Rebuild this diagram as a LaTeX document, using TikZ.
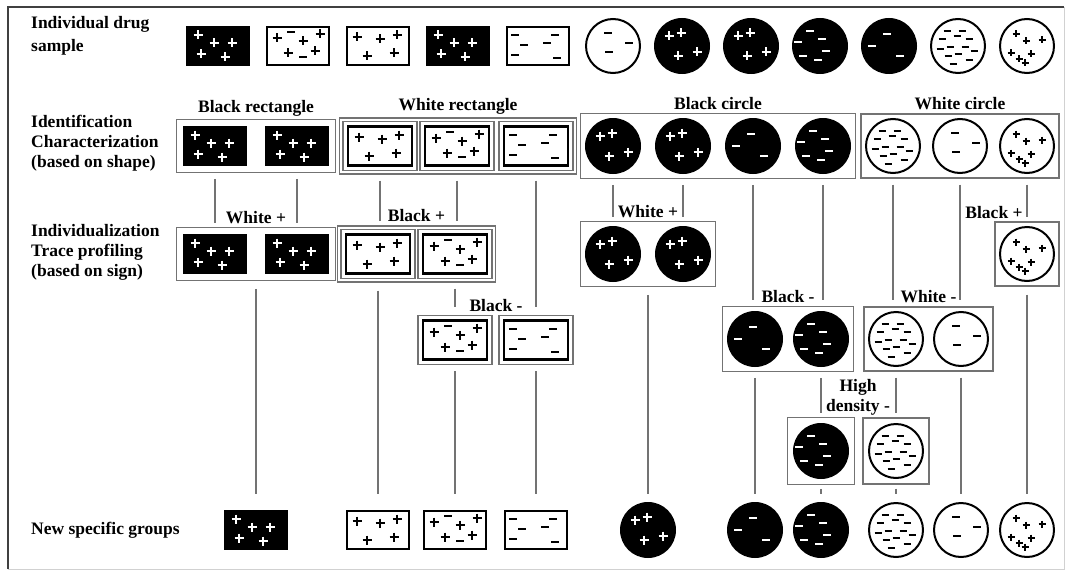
\documentclass[tikz,border=0pt]{standalone}
\usepackage{fontspec}
\setmainfont{Liberation Serif}
\usetikzlibrary{positioning,fit,calc}

% mark offsets in px (y down), one list per kind of sample
\newcommand\plBR{-20/-11,-4/-3,14/-3,-17/8,7/11}
\newcommand\plWA{-21/-8,5/-5,22/-12,-10/7,17/5}
\newcommand\miWA{-7/-14,5/11}
\newcommand\plWB{-21/-9,2/-7,19/-11,-11/10,16/7}
\newcommand\miWC{-23/-11,-14/-1,-23/9,17/-11,9/-3,19/12}
\newcommand\miCW{-5/-13,16/-3,-4/6}
\newcommand\plCB{-13/-10,-1/-13,-4/10,15/6}
\newcommand\miCB{-2/-12,-17/0,11/10}
\newcommand\miCD{-10/-15,-22/-4,2/-7,6/5,-17/10,-2/14}
\newcommand\miWD{-11/-15,4/-15,-16/-7,-1/-10,11/-7,-18/3,-8/1,7/1,16/5,-10/10,0/8,11/14,-5/18}
\newcommand\plWP{-11/-12,-1/-5,15/-6,-16/7,-8/13,4/8,-2/17}

\newcommand\plusmarks[3][4.5]{\foreach \dx/\dy in #3 {\draw[pm,#2] ([shift={(\dx,\dy)}]path picture bounding box.center) +(-#1,0) -- +(#1,0) +(0,-#1) -- +(0,#1);}}
\newcommand\dashmarks[3][4]{\foreach \dx/\dy in #3 {\draw[pm,#2] ([shift={(\dx,\dy)}]path picture bounding box.center) +(-#1,0) -- +(#1,0);}}
\newcommand\inframe{\draw[black, line width=2.5pt] ([shift={(5,5)}]path picture bounding box.north west) rectangle ([shift={(-5,-5)}]path picture bounding box.south east);}

\tikzset{
  lab/.style={font=\fontsize{17.5}{20}\selectfont\bfseries, inner sep=1pt, align=center},
  side/.style={lab, anchor=west, align=left, inner sep=0pt},
  link/.style={draw=black!55, line width=1.3pt},
  grp/.style={draw=black!55, line width=1.2pt, inner sep=#1},
  grp/.default=4pt,
  pm/.style={line width=2.3pt},
  bkrect/.style={rectangle, fill=black, minimum width=64pt, minimum height=40pt, inner sep=0pt},
  whrect/.style={rectangle, draw, line width=2.5pt, fill=white, minimum width=62pt, minimum height=38pt, inner sep=0pt},
  frm/.style={rectangle, draw=black!55, line width=1.1pt, fill=white, minimum width=74pt, minimum height=49pt, inner sep=0pt},
  bkcirc/.style={circle, fill=black, minimum size=56pt, inner sep=0pt},
  whcirc/.style={circle, draw, line width=2pt, fill=white, minimum size=54pt, inner sep=0pt},
  ibr/.style={path picture={\plusmarks{white}{\plBR}}},
  iwa/.style={path picture={#1\plusmarks{black}{\plWA}\dashmarks{black}{\miWA}}},
  iwa/.default={},
  iwb/.style={path picture={#1\plusmarks{black}{\plWB}}},
  iwb/.default={},
  iwc/.style={path picture={#1\dashmarks{black}{\miWC}}},
  iwc/.default={},
  icw/.style={path picture={\dashmarks{black}{\miCW}}},
  icb/.style={path picture={\plusmarks{white}{\plCB}}},
  icm/.style={path picture={\dashmarks{white}{\miCB}}},
  icd/.style={path picture={\dashmarks{white}{\miCD}}},
  iwd/.style={path picture={\dashmarks[3.5]{black,line width=1.9pt}{\miWD}}},
  iwp/.style={path picture={\plusmarks[3.5]{black,line width=1.9pt}{\plWP}}}
}

\begin{document}
\begin{tikzpicture}[x=1pt,y=-1pt]
\useasboundingbox (0,0) rectangle (1073,578);
\draw[line width=2pt, black!75] (8,569) -- (8,7) -- (1064,7);
\draw[line width=1pt, black!18] (8,569) -- (1064,569) -- (1064,7);

% row labels
\node[side, font=\fontsize{17.5}{23}\selectfont\bfseries] (s1) at (31,36) {Individual drug\\sample};
\node[side] (s2) at (31,143) {Identification\\Characterization\\(based on shape)};
\node[side] (s3) at (31,252) {Individualization\\Trace profiling\\(based on sign)};
\node[side] (s4) at (31,530) {New specific groups};

% individual samples
\node[bkrect,ibr] (t1) at (218,46) {};
\node[whrect,iwa] (t2) at (298,46) {};
\node[whrect,iwb] (t3) at (378,46) {};
\node[bkrect,ibr] (t4) at (458,46) {};
\node[whrect,iwc] (t5) at (538,46) {};
\node[whcirc,icw] (t6) at (613,46) {};
\node[bkcirc,icb] (t7) at (682,46) {};
\node[bkcirc,icb] (t8) at (751,46) {};
\node[bkcirc,icd] (t9) at (820,46) {};
\node[bkcirc,icm] (t10) at (889,46) {};
\node[whcirc,iwd] (t11) at (958,46) {};
\node[whcirc,iwp] (t12) at (1027,46) {};

% shape level
\node[bkrect,ibr] (i1a) at (215,146) {};
\node[bkrect,ibr] (i1b) at (297,146) {};
\node[grp=6pt, fit=(i1a)(i1b)] (g1a) {};
\node[frm,iwb=\inframe] (i1c) at (380,146) {};
\node[frm,iwa=\inframe] (i1d) at (457,146) {};
\node[frm,iwc=\inframe] (i1e) at (536,146) {};
\node[grp=3pt, fit=(i1c)(i1e)] (g1b) {};
\node[bkcirc,icb] (c1a) at (613,146) {};
\node[bkcirc,icb] (c1b) at (683,146) {};
\node[bkcirc,icm] (c1c) at (753,146) {};
\node[bkcirc,icd] (c1d) at (823,146) {};
\node[grp, fit=(c1a)(c1d)] (g1c) {};
\node[whcirc,iwd] (w1a) at (893,146) {};
\node[whcirc,icw] (w1b) at (960,146) {};
\node[whcirc,iwp] (w1c) at (1027,146) {};
\node[grp, fit=(w1a)(w1c)] (g1d) {};
\node[lab, above=2pt of g1a] (h1a) {Black rectangle};
\node[lab, above=2pt of g1b] (h1b) {White rectangle};
\node[lab, above=2pt of g1c] (h1c) {Black circle};
\node[lab, above=2pt of g1d] (h1d) {White circle};

% sign level
\node[bkrect,ibr] (i2a) at (215,254) {};
\node[bkrect,ibr] (i2b) at (297,254) {};
\node[grp=6pt, fit=(i2a)(i2b)] (g2a) {};
\node[frm,iwb=\inframe] (i2c) at (378,254) {};
\node[frm,iwa=\inframe] (i2d) at (455,254) {};
\node[grp=3pt, fit=(i2c)(i2d)] (g2b) {};
\node[bkcirc,icb] (c2a) at (613,254) {};
\node[bkcirc,icb] (c2b) at (683,254) {};
\node[grp, fit=(c2a)(c2b)] (g2c) {};
\node[whcirc,iwp] (w2a) at (1027,254) {};
\node[grp, fit=(w2a)] (g2d) {};
\node[lab, above=2pt of g2a] (l2a) {White +};
\node[lab, above=2pt of g2b] (l2b) {Black +};
\node[lab, above=2pt of g2c] (l2c) {White +};
\node[lab, anchor=south] (l2d) at (994,220) {Black +};

\draw[link] ($(g1a.south -| i1a)+(0,6)$) -- ($(g2a.north -| i1a)+(0,-4)$);
\draw[link] ($(g1a.south -| i1b)+(0,6)$) -- ($(g2a.north -| i1b)+(0,-4)$);
\draw[link] ($(g1b.south -| i1c)+(0,6)$) -- ($(g2b.north -| i1c)+(0,-4)$);
\draw[link] ($(g1b.south -| i1d)+(0,6)$) -- ($(g2b.north -| i1d)+(0,-4)$);
\draw[link] ($(g1c.south -| c1a)+(0,6)$) -- ($(g2c.north -| c1a)+(0,-4)$);
\draw[link] ($(g1c.south -| c1b)+(0,6)$) -- ($(g2c.north -| c1b)+(0,-4)$);
\draw[link] ($(g1d.south -| w1c)+(0,6)$) -- ($(g2d.north -| w1c)+(0,-4)$);

% third level
\node[frm,iwa=\inframe] (r3a) at (455,340) {};
\node[frm,iwc=\inframe] (r3b) at (536,340) {};
\node[bkcirc,icm] (c3a) at (755,339) {};
\node[bkcirc,icd] (c3b) at (821,339) {};
\node[grp, fit=(c3a)(c3b)] (g3a) {};
\node[whcirc,iwd] (c3c) at (896,339) {};
\node[whcirc,icw] (c3d) at (961,339) {};
\node[grp, fit=(c3c)(c3d)] (g3b) {};
\node[lab, anchor=south] (l3a) at (496,313) {Black -};
\node[lab, above=2pt of g3a] (l3b) {Black -};
\node[lab, above=2pt of g3b] (l3c) {White -};

\draw[link] ($(g2b.south -| i2d)+(0,6)$) -- ($(r3a.north)+(0,-8)$);
\draw[link] ($(g1b.south -| i1e)+(0,6)$) -- ($(r3b.north)+(0,-8)$);
\draw[link] ($(g1c.south -| c1c)+(0,6)$) -- ($(g3a.north -| c1c)+(0,-6)$);
\draw[link] ($(g1c.south -| c1d)+(0,6)$) -- ($(g3a.north -| c1d)+(0,-6)$);
\draw[link] ($(g1d.south -| w1a)+(0,6)$) -- ($(g3b.north -| w1a)+(0,-6)$);
\draw[link] ($(g1d.south -| w1b)+(0,6)$) -- ($(g3b.north -| w1b)+(0,-6)$);

% high density
\node[bkcirc,icd] (h4a) at (821,451) {};
\node[grp=5pt, fit=(h4a)] (g4a) {};
\node[whcirc,iwd] (h4b) at (896,451) {};
\node[grp=5pt, fit=(h4b)] (g4b) {};
\node[lab, anchor=south] (l4) at (858,416) {High\\density -};
\draw[link] ($(g3a.south -| c3b)+(0,6)$) -- ($(g4a.north)+(0,-4)$);
\draw[link] ($(g3b.south -| c3c)+(0,6)$) -- ($(g4b.north)+(0,-4)$);

% new specific groups
\coordinate (ends) at (0,494);
\node[bkrect,ibr] (b1) at (256,530) {};
\node[whrect,iwb] (b2) at (378,530) {};
\node[whrect,iwa] (b3) at (455,530) {};
\node[whrect,iwc] (b4) at (536,530) {};
\node[bkcirc,icb] (bc1) at (648,530) {};
\node[bkcirc,icm] (bc2) at (755,530) {};
\node[bkcirc,icd] (bc3) at (821,530) {};
\node[whcirc,iwd] (bc4) at (896,530) {};
\node[whcirc,icw] (bc5) at (961,530) {};
\node[whcirc,iwp] (bc6) at (1027,530) {};

\draw[link] ($(g2a.south)+(0,8)$) -- (b1 |- ends);
\draw[link] ($(g2b.south -| i2c)+(0,8)$) -- (b2 |- ends);
\draw[link] ($(r3a.south)+(0,6)$) -- (b3 |- ends);
\draw[link] ($(r3b.south)+(0,6)$) -- (b4 |- ends);
\draw[link] ($(g2c.south)+(0,8)$) -- (bc1 |- ends);
\draw[link] ($(g3a.south -| c3a)+(0,6)$) -- (bc2 |- ends);
\draw[link] ($(g4a.south)+(0,4)$) -- (bc3 |- ends);
\draw[link] ($(g4b.south)+(0,4)$) -- (bc4 |- ends);
\draw[link] ($(g3b.south -| c3d)+(0,6)$) -- (bc5 |- ends);
\draw[link] ($(g2d.south)+(0,8)$) -- (bc6 |- ends);
\end{tikzpicture}
\end{document}
